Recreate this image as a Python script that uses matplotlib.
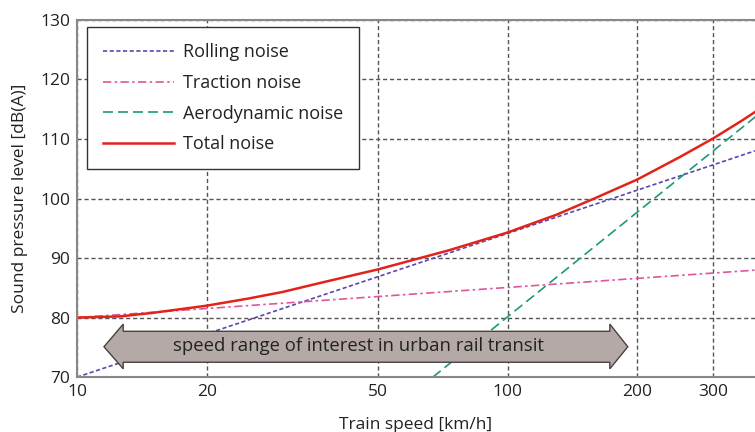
import numpy as np
import matplotlib
matplotlib.use('Agg')
import matplotlib.pyplot as plt
from matplotlib.patches import Polygon

plt.rcParams['font.family'] = ['Open Sans', 'DejaVu Sans']

# values
rolling_speed = [10, 375]
rolling_level = [70.0, 108.0]
traction_speed = [10, 380]
traction_level = [80.0, 88.0]
aero_speed = [67, 380]
aero_level = [70.0, 114.0]
total_speed = [10, 12.6, 15, 20, 25, 30, 36.6, 50, 73, 100, 130, 160, 200, 250, 300, 350, 380]
total_level = [80.0, 80.2, 80.8, 82.0, 83.2, 84.3, 85.8, 88.1, 91.3, 94.3, 97.3, 100.1,
               103.2, 106.9, 110.1, 113.1, 114.8]

xticks = [10, 20, 50, 100, 200, 300]
yticks = [70, 80, 90, 100, 110, 120, 130]

fig = plt.figure(figsize=(7.55, 4.32), dpi=100)
ax = fig.add_axes([0.102, 0.127, 0.898, 0.827])

ax.plot(rolling_speed, rolling_level, color='#5b45b0', lw=1.2, ls=(0, (2.5, 1.5)), label='Rolling noise')
ax.plot(traction_speed, traction_level, color='#e0559b', lw=1.2, ls=(0, (5, 2, 1.5, 2)), label='Traction noise')
ax.plot(aero_speed, aero_level, color='#1c9a78', lw=1.2, ls=(0, (6, 3)), label='Aerodynamic noise')
ax.plot(total_speed, total_level, color='#e2231a', lw=1.8, label='Total noise',
        solid_joinstyle='round')

ax.set_xscale('log')
ax.set_xlim(10, 375)
ax.set_ylim(70, 130)
ax.set_xticks(xticks)
ax.set_xticklabels([str(t) for t in xticks])
ax.xaxis.set_minor_locator(matplotlib.ticker.NullLocator())
ax.set_yticks(yticks)
ax.tick_params(direction='in', length=0, labelsize=12.5, pad=5, colors='#222222')

ax.grid(True, color='#555555', lw=1, ls=(0, (3, 2)))
for s in ax.spines.values():
    s.set_color('#888888')
    s.set_linewidth(1.5)
ax.spines['right'].set_visible(False)

ax.set_xlabel('Train speed [km/h]', fontsize=12.5, color='#222222', labelpad=12)
ax.set_ylabel('Sound pressure level [dB(A)]', fontsize=12.5, color='#222222', labelpad=9)

# double-headed arrow for the urban speed range
xl, xlb, xrb, xr = 11.55, 12.8, 172.6, 190
yc, yb0, yb1, yh0, yh1 = 75.1, 72.5, 77.7, 71.4, 78.9
arrow = Polygon([(xl, yc), (xlb, yh1), (xlb, yb1), (xrb, yb1), (xrb, yh1), (xr, yc),
                 (xrb, yh0), (xrb, yb0), (xlb, yb0), (xlb, yh0)],
                closed=True, facecolor='#b4a9a7', edgecolor='#4a4040', lw=1.0, zorder=5)
ax.add_patch(arrow)
ax.text(45, 75.2, 'speed range of interest in urban rail transit', ha='center', va='center',
        fontsize=13.3, color='#222222', zorder=6)

leg = ax.legend(loc='upper left', bbox_to_anchor=(0.0147, 0.98), fontsize=13, frameon=True,
                fancybox=False, framealpha=1, edgecolor='#333333', handlelength=3.9,
                handletextpad=0.5, borderpad=0.9, labelspacing=0.7, borderaxespad=0)
leg.get_frame().set_linewidth(1.0)
for t in leg.get_texts():
    t.set_color('#222222')

fig.savefig('out.png', dpi=100)
